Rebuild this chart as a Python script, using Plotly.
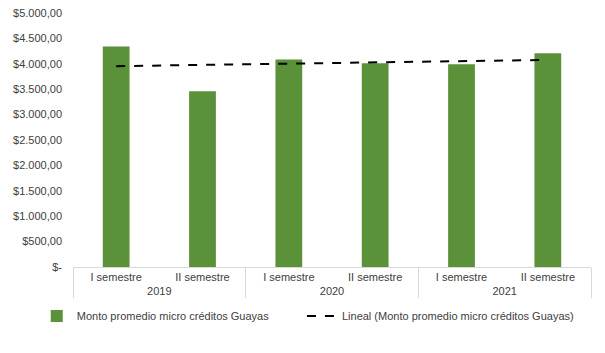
import numpy as np
import plotly.graph_objects as go

years = ["2019", "2019", "2020", "2020", "2021", "2021"]
semesters = ["I semestre", "II semestre", "I semestre", "II semestre", "I semestre", "II semestre"]
values = [4340, 3458, 4085, 4011, 3990, 4209]
tick_vals = [0, 500, 1000, 1500, 2000, 2500, 3000, 3500, 4000, 4500, 5000]
tick_text = ["$-", "$500,00", "$1.000,00", "$1.500,00", "$2.000,00", "$2.500,00",
             "$3.000,00", "$3.500,00", "$4.000,00", "$4.500,00", "$5.000,00"]
series_name = "Monto promedio micro créditos Guayas"
trend_name = "Lineal (Monto promedio micro créditos Guayas)"

# linear trendline (least squares) as in Excel
idx = np.arange(1, len(values) + 1)
slope, intercept = np.polyfit(idx, values, 1)
trend = list(slope * idx + intercept)

font = "Liberation Sans"
fig = go.Figure()
fig.add_trace(go.Bar(
    x=[years, semesters], y=values, name=series_name,
    marker=dict(color="#5B9139", line=dict(width=0)),
    legend="legend",
))
fig.add_trace(go.Scatter(
    x=[years, semesters], y=trend, name=trend_name, mode="lines",
    line=dict(color="black", width=2, dash="dash"),
    legend="legend2",
))
legend_common = dict(orientation="h", xanchor="left", y=-0.193, yanchor="middle",
                     font=dict(size=11, color="#404040"), bgcolor="rgba(0,0,0,0)")
# page body adds an 8px offset, so the figure is 8px smaller than the window
fig.update_layout(
    width=597, height=345,
    margin=dict(l=65, r=14, t=5, b=86, autoexpand=False),
    paper_bgcolor="white", plot_bgcolor="white",
    bargap=0.69,
    font=dict(family=font, size=11, color="#404040"),
    showlegend=True,
    legend=dict(x=-0.07, **legend_common),
    legend2=dict(x=0.442, **legend_common),
)
fig.update_xaxes(
    type="multicategory", showline=True, linecolor="#D9D9D9", linewidth=1,
    showgrid=False, ticks="", showdividers=True, dividercolor="#D9D9D9", dividerwidth=1,
    tickfont=dict(size=11, color="#404040"), automargin=False,
)
fig.update_yaxes(
    range=[0, 5000], tickvals=tick_vals, ticktext=tick_text, showgrid=False,
    showline=False, zeroline=False, ticks="", tickfont=dict(size=11, color="#404040"),
    automargin=False, ticklabelstandoff=10, ticklabeloverflow="allow",
)
fig.write_html("out.html")
